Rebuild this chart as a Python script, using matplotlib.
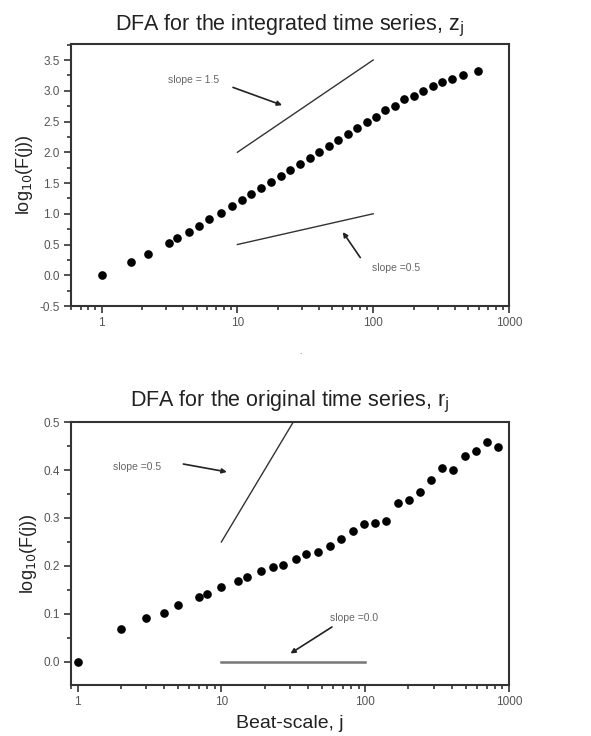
import matplotlib
matplotlib.use("Agg")
import matplotlib.pyplot as plt
from matplotlib.ticker import MultipleLocator, LogLocator, NullFormatter, FixedLocator, FixedFormatter

plt.rcParams['font.family'] = ['Liberation Sans', 'DejaVu Sans']

# ---- data: integrated series ----
z_scale = [1, 1.64, 2.19, 3.14, 3.6, 4.41, 5.2, 6.22, 7.54, 9.14, 10.8, 12.7, 15.0, 17.8,
           20.8, 24.5, 28.9, 34.0, 39.8, 47, 55, 64.7, 75.9, 89.3, 104.6, 123, 144, 170,
           199, 234, 275, 323, 379, 462, 595]
z_logF = [0.0, 0.21, 0.35, 0.53, 0.60, 0.71, 0.80, 0.91, 1.02, 1.12, 1.22, 1.32, 1.42, 1.52,
          1.62, 1.71, 1.81, 1.90, 2.00, 2.10, 2.20, 2.29, 2.39, 2.49, 2.58, 2.69, 2.76, 2.86,
          2.92, 2.99, 3.08, 3.14, 3.19, 3.26, 3.32]

# ---- data: original series ----
r_scale = [1, 2, 3, 4, 5, 7, 8, 10, 13, 15, 19, 23, 27, 33, 39, 47, 57, 68, 82, 98,
           117, 140, 169, 202, 241, 287, 344, 410, 491, 589, 702, 837]
r_logF = [0.0, 0.068, 0.091, 0.103, 0.118, 0.136, 0.142, 0.156, 0.168, 0.177, 0.190, 0.197,
          0.202, 0.215, 0.225, 0.230, 0.242, 0.257, 0.273, 0.287, 0.289, 0.294, 0.331, 0.337,
          0.354, 0.379, 0.404, 0.400, 0.429, 0.439, 0.458, 0.448]

# reference slope lines (x pair, y pair)
z_ref15_x = [10, 100]; z_ref15_y = [2.0, 3.5]
z_ref05_x = [10, 100]; z_ref05_y = [0.5, 1.0]
r_ref05_x = [10, 100]; r_ref05_y = [0.25, 0.75]
r_ref00_x = [10, 100]; r_ref00_y = [0.0, 0.0]

xticks = [1, 10, 100, 1000]
xticklabels = ["1", "10", "100", "1000"]

fig = plt.figure(figsize=(5.91, 7.36), dpi=100)
ax1 = fig.add_axes([0.1201, 0.5842, 0.7411, 0.356])
ax2 = fig.add_axes([0.1201, 0.0693, 0.7411, 0.3573])

spine_c = '#333333'
tick_c = '#555555'

def style(ax, ylo, yhi, ymaj, ymin, xlo):
    ax.set_xscale('log')
    ax.set_xlim(xlo, 1000)
    ax.set_ylim(ylo, yhi)
    for s in ax.spines.values():
        s.set_linewidth(1.5)
        s.set_color(spine_c)
    ax.xaxis.set_major_locator(FixedLocator(xticks))
    ax.xaxis.set_major_formatter(FixedFormatter(xticklabels))
    ax.xaxis.set_minor_locator(LogLocator(base=10, subs=range(2, 10)))
    ax.xaxis.set_minor_formatter(NullFormatter())
    ax.yaxis.set_major_locator(MultipleLocator(ymaj))
    ax.yaxis.set_minor_locator(MultipleLocator(ymin))
    ax.tick_params(which='both', direction='out', top=False, right=False,
                   colors=spine_c, labelcolor=tick_c, labelsize=8.5, width=1.2)
    ax.tick_params(which='major', length=5, pad=3)
    ax.tick_params(which='minor', length=3)

ann_fs = 7.5

# ---- top panel ----
style(ax1, -0.5, 3.76, 0.5, 0.25, 0.595)
ax1.yaxis.set_major_formatter(matplotlib.ticker.FormatStrFormatter('%.1f'))
ax1.plot(z_scale, z_logF, 'o', color='black', markersize=5.2)
ax1.plot(z_ref15_x, z_ref15_y, color='#333333', lw=1.0)
ax1.plot(z_ref05_x, z_ref05_y, color='#333333', lw=1.0)
ax1.annotate('', xy=(22.3, 2.75), xytext=(8.88, 3.07),
             arrowprops=dict(arrowstyle='-|>', color='#222222', lw=1.2, mutation_scale=7))
ax1.text(4.72, 3.18, 'slope = 1.5', fontsize=ann_fs, color='#666666', ha='center', va='center')
ax1.annotate('', xy=(58.2, 0.74), xytext=(82.5, 0.25),
             arrowprops=dict(arrowstyle='-|>', color='#222222', lw=1.2, mutation_scale=7))
ax1.text(147.6, 0.12, 'slope =0.5', fontsize=ann_fs, color='#666666', ha='center', va='center')
ax1.set_ylabel(r'log$_{10}$(F(j))', fontsize=13, color='#222222', labelpad=3)
ax1.set_title(r'DFA for the integrated time series, z$_{\mathrm{j}}$', fontsize=15.5,
              color='#222222', pad=10)

# ---- bottom panel ----
style(ax2, -0.048, 0.5, 0.1, 0.05, 0.9)
ax2.yaxis.set_major_formatter(matplotlib.ticker.FormatStrFormatter('%.1f'))
ax2.plot(r_scale, r_logF, 'o', color='black', markersize=5.2)
ax2.plot(r_ref05_x, r_ref05_y, color='#333333', lw=1.0)
ax2.plot(r_ref00_x, r_ref00_y, color='#777777', lw=1.8)
ax2.annotate('', xy=(11.4, 0.395), xytext=(5.21, 0.4135),
             arrowprops=dict(arrowstyle='-|>', color='#222222', lw=1.2, mutation_scale=7))
ax2.text(2.61, 0.407, 'slope =0.5', fontsize=ann_fs, color='#666666', ha='center', va='center')
ax2.annotate('', xy=(29.1, 0.0146), xytext=(61, 0.076),
             arrowprops=dict(arrowstyle='-|>', color='#222222', lw=1.2, mutation_scale=7))
ax2.text(84.3, 0.091, 'slope =0.0', fontsize=ann_fs, color='#666666', ha='center', va='center')
ax2.set_ylabel(r'log$_{10}$(F(j))', fontsize=13, color='#222222', labelpad=3)
ax2.set_xlabel('Beat-scale, j', fontsize=14, color='#222222', labelpad=5)
ax2.set_title(r'DFA for the original time series, r$_{\mathrm{j}}$', fontsize=15.5,
              color='#222222', pad=11)

fig.text(300 / 591, 1 - 352 / 736, '.', fontsize=6, color='#555555', ha='center', va='center')

fig.savefig('out.png', dpi=100)
